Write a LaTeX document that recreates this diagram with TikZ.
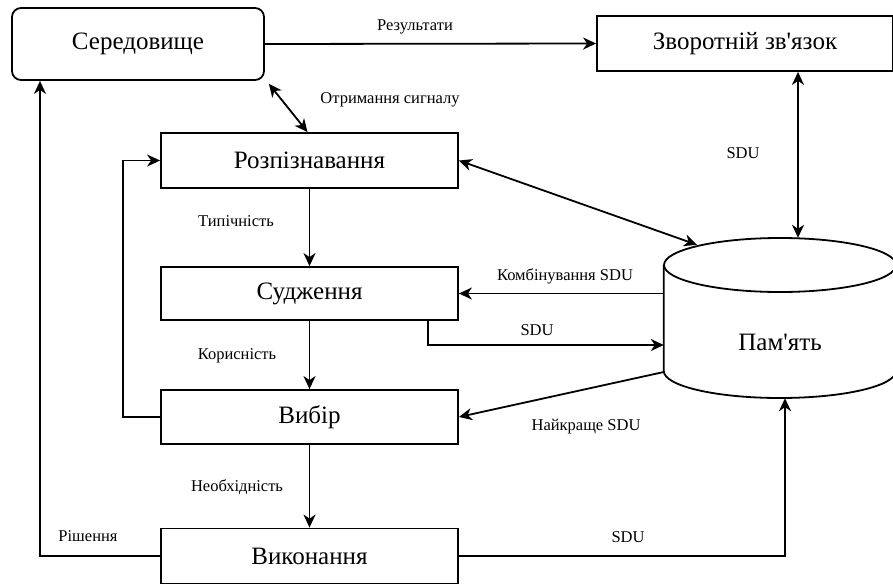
\documentclass[tikz,border=0pt]{standalone}
\usepackage{fontspec}
\setmainfont{Liberation Serif}
\usetikzlibrary{arrows.meta}
\begin{document}
\begin{tikzpicture}[x=1pt,y=-1pt,
  box/.style={draw, line width=1.8pt, minimum width=297pt, minimum height=55pt,
              inner sep=0pt, font=\fontsize{25}{30}\selectfont},
  lbl/.style={font=\fontsize{16.5}{19}\selectfont, inner sep=0pt},
  conn/.style={line width=1.8pt, -{Stealth[length=13pt,width=12pt,inset=4pt]}},
  both/.style={line width=1.8pt, {Stealth[length=13pt,width=12pt,inset=4pt]}-{Stealth[length=13pt,width=12pt,inset=4pt]}}]
\useasboundingbox (0,0) rectangle (893,583);

% process blocks
\node[box, rounded corners=9pt, minimum width=252pt, minimum height=72pt] (env) at (138,44) {Середовище};
\node[box, minimum width=296pt, minimum height=55pt] (fb) at (745,43.5) {Зворотній зв\textquotesingle язок};
\node[box] (rec) at (309.5,160.5) {Розпізнавання};
\node[box, minimum height=53pt] (jud) at (309.5,293.5) {Судження};
\node[box, minimum height=54pt] (sel) at (309.5,417) {Вибір};
\node[box] (exe) at (309.5,556) {Виконання};

% memory store (cylinder)
\node[minimum width=232pt, minimum height=160pt, inner sep=0pt] (mem) at (780,318) {};
\draw[line width=1.8pt] (780,265) ellipse [x radius=116, y radius=27];
\draw[line width=1.8pt] (mem.west |- 0,265) -- (mem.west |- 0,371)
  arc[start angle=180, end angle=0, x radius=116, y radius=27] -- (mem.east |- 0,265);
\node[font=\fontsize{25}{30}\selectfont, inner sep=0pt] (memtext) at (780,342) {Пам\textquotesingle ять};

% connectors
\draw[conn] (env.east) -- (fb.west);
\draw[both] ([shift={(4,3)}]env.south east) -- ([xshift=-2pt]rec.north);
\draw[both] ([xshift=53pt]fb.south) -- ([xshift=18pt]mem.north);
\draw[both] (rec.east) -- ([shift={(-83,7)}]mem.north);
\draw[conn] (mem.west |- jud.east) -- (jud.east);
\draw[conn] ([xshift=-31pt]jud.south east) |- ([yshift=-27pt]mem.west);
\draw[conn] ([yshift=-54pt]mem.west) -- (sel.east);
\draw[conn] (rec.south) -- (jud.north);
\draw[conn] (jud.south) -- (sel.north);
\draw[conn] (sel.south) -- (exe.north);
\draw[conn] (sel.west) -- ++(-37,0) |- (rec.west);
\draw[conn] (exe.west) -| ([xshift=-98pt]env.south);
\draw[conn] (exe.east) -| ([xshift=5pt]mem.south);

% connector labels
\node[lbl] (l1) at (415,27) {Результати};
\node[lbl] (l2) at (390,100) {Отримання сигналу};
\node[lbl] (l3) at (743,153) {SDU};
\node[lbl] (l4) at (236,221) {Типічність};
\node[lbl] (l5) at (565,276) {Комбінування SDU};
\node[lbl] (l6) at (537,330) {SDU};
\node[lbl] (l7) at (237,356) {Корисність};
\node[lbl] (l8) at (586,427) {Найкраще SDU};
\node[lbl] (l9) at (237,487) {Необхідність};
\node[lbl] (l10) at (88,536) {Рішення};
\node[lbl] (l11) at (628,537) {SDU};
\end{tikzpicture}
\end{document}
